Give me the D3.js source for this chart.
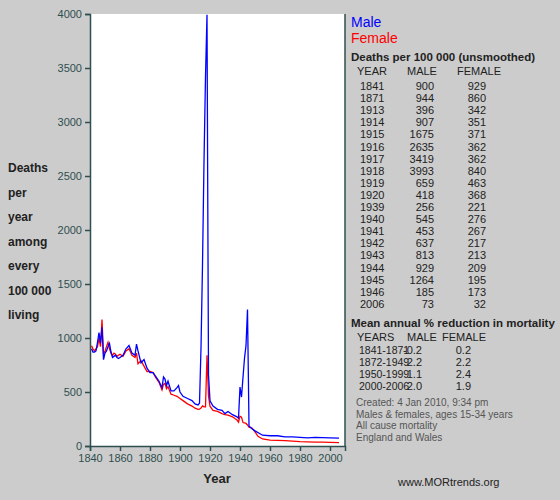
<!DOCTYPE html>
<html><head><meta charset="utf-8">
<script src="https://cdn.jsdelivr.net/npm/d3@7"></script>
<style>body{margin:0;background:#cccccc}text{font-family:"Liberation Sans",Arial,sans-serif}</style>
</head><body><div class="chart"></div>
<script>
var width = 560, height = 500;

var maleYears = [1841,1842,1843,1844,1845,1846,1847,1848,1849,1850,1851,1852,1853,1854,1855,1856,1857,1858,1859,1860,1862,1864,1866,1868,1870,1871,1872,1874,1876,1878,1880,1882,1884,1886,1888,1889,1890,1891,1892,1894,1896,1898,1899,1900,1902,1905,1908,1910,1912,1913,1914,1915,1916,1917,1918,1919,1920,1922,1925,1928,1930,1932,1935,1938,1939,1940,1941,1942,1943,1944,1945,1946,1948,1950,1955,1960,1965,1970,1975,1980,1985,1990,1995,2000,2006];
var maleValues = [900,870,870,880,960,1050,950,1100,800,860,880,920,950,870,820,830,840,820,810,820,840,900,930,860,840,944,880,770,800,720,680,680,640,600,540,640,620,560,600,510,510,540,560,500,460,440,420,390,380,396,907,1675,2635,3419,3993,659,418,370,340,330,300,320,290,270,256,545,453,637,813,929,1264,185,160,140,100,95,95,85,85,80,75,80,78,75,73];
var femaleYears = [1841,1842,1843,1844,1845,1846,1847,1848,1849,1850,1851,1852,1853,1854,1855,1856,1857,1858,1859,1860,1862,1864,1866,1868,1870,1871,1872,1874,1876,1878,1880,1882,1884,1886,1888,1889,1890,1891,1892,1894,1896,1898,1900,1902,1905,1908,1910,1912,1913,1914,1915,1916,1917,1918,1919,1920,1922,1925,1928,1930,1932,1935,1938,1939,1940,1941,1942,1943,1944,1945,1946,1948,1950,1952,1955,1960,1965,1970,1975,1980,1985,1990,1995,2000,2006];
var femaleValues = [929,900,880,900,920,1000,920,1170,850,880,920,960,900,860,840,860,850,830,840,850,830,880,900,840,820,860,760,790,740,690,690,680,630,590,520,570,580,530,550,480,470,460,440,420,390,370,350,340,342,351,371,362,362,840,463,368,330,320,300,290,285,270,240,221,276,267,217,213,209,195,173,165,130,90,65,55,52,50,45,40,38,36,35,33,32];

var tableYears = ["1841","1871","1913","1914","1915","1916","1917","1918","1919","1920","1939","1940","1941","1942","1943","1944","1945","1946","2006"];
var tableMale = [900,944,396,907,1675,2635,3419,3993,659,418,256,545,453,637,813,929,1264,185,73];
var tableFemale = [929,860,342,351,371,362,362,840,463,368,221,276,267,217,213,209,195,173,32];
var periods = ["1841-1871","1872-1949","1950-1999","2000-2006"];
var redMale = ["-0.2","2.2","1.1","2.0"];
var redFemale = ["0.2","2.2","2.4","1.9"];
var xTicks = [1840,1860,1880,1900,1920,1940,1960,1980,2000];
var yTicks = [0,500,1000,1500,2000,2500,3000,3500,4000];
var yLabel = ["Deaths","per","year","among","every","100 000","living"];
var notes = ["Created: 4 Jan 2010, 9:34 pm","Males & females, ages 15-34 years","All cause mortality","England and Wales"];

var svg = d3.select(".chart").append("svg").attr("width", width).attr("height", height);
svg.append("rect").attr("width", width).attr("height", height).attr("fill", "#cccccc");

var x = d3.scaleLinear().domain([1840, 2010]).range([90, 345]);
var y = d3.scaleLinear().domain([0, 4000]).range([446, 14]);

svg.append("rect").attr("x", 90).attr("y", 14).attr("width", 255).attr("height", 432).attr("fill", "#fff");

var line = d3.line().x(d => x(d[0])).y(d => y(d[1]));
svg.append("path").datum(femaleYears.map((v, i) => [v, femaleValues[i]]))
   .attr("d", line).attr("fill", "none").attr("stroke", "#ff0000").attr("stroke-width", 1.3);
svg.append("path").datum(maleYears.map((v, i) => [v, maleValues[i]]))
   .attr("d", line).attr("fill", "none").attr("stroke", "#0000ff").attr("stroke-width", 1.3);

var xa = svg.append("g").attr("transform", "translate(0,446)")
   .call(d3.axisBottom(x).tickValues(xTicks).tickFormat(d3.format("d")).tickSize(5));
var ya = svg.append("g").attr("transform", "translate(90,0)")
   .call(d3.axisLeft(y).tickValues(yTicks).tickFormat(d3.format("d")).tickSize(5));
[xa, ya].forEach(a => {
  a.selectAll("path,line").attr("stroke", "#2f4f4f").attr("stroke-width", 1.5);
  a.selectAll("text").attr("fill", "#2f4f4f").attr("font-size", 11);
});
svg.append("line").attr("x1", 345).attr("x2", 345).attr("y1", 14).attr("y2", 446).attr("stroke", "#2f4f4f").attr("stroke-width", 1.5);

svg.append("text").attr("x", 217).attr("y", 483).attr("text-anchor", "middle")
   .attr("font-weight", "bold").attr("font-size", 13).attr("fill", "#222").text("Year");
svg.selectAll(".yl").data(yLabel).enter().append("text")
   .attr("x", 8).attr("y", (d, i) => 172 + i * 24.5).attr("font-weight", "bold")
   .attr("font-size", 12).attr("fill", "#222").text(d => d);

svg.append("text").attr("x", 351).attr("y", 27).attr("fill", "#0000ff").attr("font-size", 14).text("Male");
svg.append("text").attr("x", 351).attr("y", 43).attr("fill", "#ff0000").attr("font-size", 14).text("Female");

svg.append("text").attr("x", 351).attr("y", 61).attr("font-weight", "bold").attr("font-size", 11.5).attr("fill", "#222").text("Deaths per 100 000 (unsmoothed)");
var hdr = svg.append("g").attr("font-size", 11).attr("fill", "#222");
hdr.append("text").attr("x", 357).attr("y", 75).text("YEAR");
hdr.append("text").attr("x", 407).attr("y", 75).text("MALE");
hdr.append("text").attr("x", 457).attr("y", 75).text("FEMALE");
var rows = svg.append("g").attr("font-size", 11).attr("fill", "#222");
tableYears.forEach((yr, i) => {
  var ry = 90 + i * 12.1;
  rows.append("text").attr("x", 360).attr("y", ry).text(yr);
  rows.append("text").attr("x", 434).attr("y", ry).attr("text-anchor", "end").text(tableMale[i]);
  rows.append("text").attr("x", 486).attr("y", ry).attr("text-anchor", "end").text(tableFemale[i]);
});

svg.append("text").attr("x", 351).attr("y", 327).attr("font-weight", "bold").attr("font-size", 11.5).attr("fill", "#222").text("Mean annual % reduction in mortality");
hdr.append("text").attr("x", 357).attr("y", 341).text("YEARS");
hdr.append("text").attr("x", 407).attr("y", 341).text("MALE");
hdr.append("text").attr("x", 442).attr("y", 341).text("FEMALE");
periods.forEach((p, i) => {
  var ry = 354 + i * 12.1;
  rows.append("text").attr("x", 359).attr("y", ry).attr("font-size", 10.5).text(p);
  rows.append("text").attr("x", 422).attr("y", ry).attr("text-anchor", "end").text(redMale[i]);
  rows.append("text").attr("x", 471).attr("y", ry).attr("text-anchor", "end").text(redFemale[i]);
});
svg.selectAll(".note").data(notes).enter().append("text")
   .attr("x", 356).attr("y", (d, i) => 406 + i * 11.5).attr("font-size", 10).attr("fill", "#555").text(d => d);
svg.append("text").attr("x", 398).attr("y", 486).attr("font-size", 11).attr("fill", "#222").text("www.MORtrends.org");
</script></body></html>
